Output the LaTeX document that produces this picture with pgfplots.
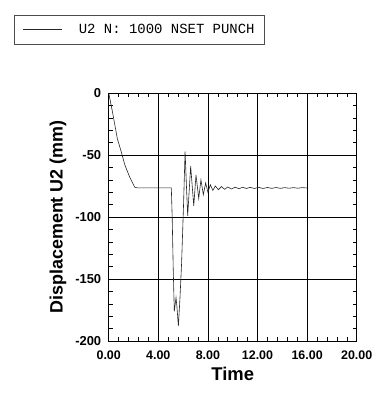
\documentclass[border=0pt]{standalone}
\usepackage{fontspec}
\setmainfont{Liberation Sans}
\newfontfamily\mono{Liberation Mono}
\usepackage{pgfplots}
\pgfplotsset{compat=1.18}
\begin{document}
\begin{tikzpicture}
\begin{axis}[
  at={(0,0)}, anchor=south west,
  scale only axis, width=248bp, height=248bp,
  xmin=0, xmax=20, ymin=-200, ymax=0,
  xtick={0,4,...,20}, ytick={-200,-150,...,0},
  minor x tick num=4, minor y tick num=4,
  tick align=inside,
  major tick length=0pt, minor tick length=4bp,
  grid=major,
  major grid style={black, line width=0.6pt},
  axis line style={black, line width=0.6pt},
  tick style={black, line width=0.5pt},
  /pgf/number format/assume math mode=true,
  xticklabel style={font=\bfseries\fontsize{12.5}{14}\selectfont, yshift=-6bp,
    /pgf/number format/.cd, fixed, fixed zerofill, precision=2, 1000 sep={}},
  yticklabel style={font=\bfseries\fontsize{13}{15}\selectfont, xshift=-4bp},
  xlabel={Time},
  ylabel={Displacement U2 (mm)},
  xlabel style={font=\bfseries\fontsize{18.5}{21}\selectfont, yshift=-1bp},
  ylabel style={font=\bfseries\fontsize{18}{21}\selectfont, yshift=2bp},
  legend style={at={(-0.382,1.3145)}, anchor=north west, draw=black!70,
    line width=0.6pt, font=\mono\fontsize{14}{16}\selectfont,
    inner xsep=8bp, inner ysep=7bp},
  legend image code/.code={\draw[line width=0.6pt] (0bp,0bp) -- (39bp,0bp); \path (54bp,0bp);},
]
\addplot[black!85, line width=0.6pt] coordinates {
(0,0) (0.3,-15) (0.7,-37) (1.0,-47) (1.3,-58) (1.7,-68) (2.1,-76)
(2.3,-76.5) (5.05,-76.5) (5.12,-100) (5.2,-140) (5.29,-176) (5.43,-165)
(5.5,-172) (5.62,-188) (5.75,-165) (5.88,-137) (6.03,-92) (6.16,-47)
(6.27,-75) (6.37,-99) (6.61,-59) (6.86,-91) (7.04,-66) (7.26,-85)
(7.44,-70) (7.63,-82) (7.82,-72.5) (8.0,-80) (8.2,-74) (8.4,-78.5)
(8.6,-75) (8.85,-78) (9.1,-75.5) (9.35,-77.7) (9.6,-75.8) (9.9,-77.4)
(10.2,-76) (10.5,-77.2) (10.8,-76) (11.1,-77) (11.4,-76.1) (11.75,-77)
(12.1,-76.1) (12.45,-77) (12.8,-76.2) (13.15,-76.9) (13.5,-76.2)
(13.85,-76.9) (14.2,-76.3) (14.55,-76.8) (14.9,-76.3) (15.25,-76.8)
(15.6,-76.3) (16.0,-76.6)
};
\addlegendentry{U2 N: 1000 NSET PUNCH}
\end{axis}
\pgfresetboundingbox
\path[use as bounding box] (-108.7bp,-54bp) rectangle (275.3bp,341bp);
\end{tikzpicture}
\end{document}
